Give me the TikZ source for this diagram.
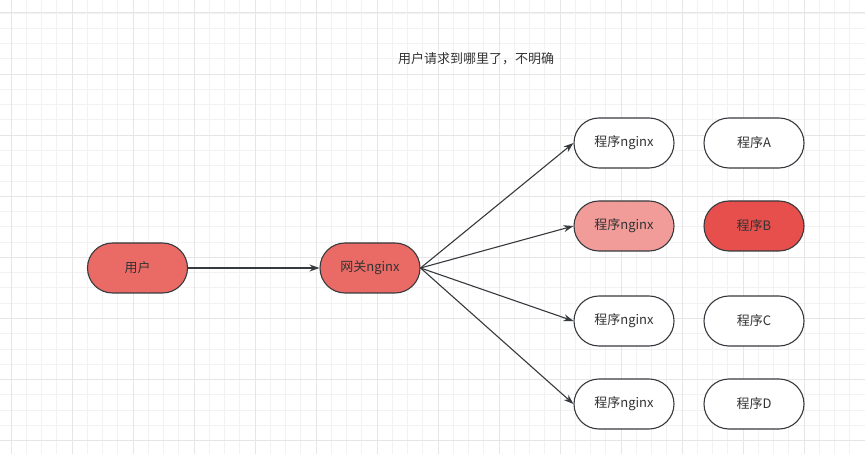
\documentclass[tikz,border=0pt]{standalone}
\usepackage{fontspec}
\setmainfont{Noto Sans CJK SC}
\usetikzlibrary{arrows.meta}
\definecolor{gridminor}{HTML}{F2F2F2}
\definecolor{gridmajor}{HTML}{E6E6E6}
\definecolor{boxline}{HTML}{36393D}
\definecolor{txt}{HTML}{333333}
\definecolor{redmid}{HTML}{EA6B66}
\definecolor{redlight}{HTML}{F19C99}
\definecolor{reddark}{HTML}{E64F4C}
\tikzstyle{every node}=[text=txt,font=\fontsize{13}{15}\selectfont]
\tikzstyle{pill}=[draw=boxline,line width=1.1pt,rounded corners=25pt,
  minimum width=100pt,minimum height=50pt,inner sep=0pt,fill=white]
\tikzstyle{link}=[draw=boxline,line width=1.1pt,-{Stealth[length=10pt,width=7pt]}]

\begin{document}
\begin{tikzpicture}[x=1pt,y=-1pt]
  \useasboundingbox (0,0) rectangle (865,454);
  % grid
  \foreach \i in {0,...,56}
    \draw[gridminor,line width=0.8pt] ({11+15.25*\i},0) -- ({11+15.25*\i},454);
  \foreach \j in {0,...,28}
    \draw[gridminor,line width=0.8pt] (0,{13+15.27*\j}) -- (865,{13+15.27*\j});
  \foreach \i in {0,...,14}
    \draw[gridmajor,line width=1pt] ({11+61*\i},0) -- ({11+61*\i},454);
  \foreach \j in {0,...,7}
    \draw[gridmajor,line width=1pt] (0,{13+61.08*\j}) -- (865,{13+61.08*\j});

  \node (title) at (476,59) {用户请求到哪里了，不明确};

  \node[pill,fill=redmid] (user) at (137.5,268) {用户};
  \node[pill,fill=redmid] (gate) at (370,268) {网关nginx};

  \node[pill] (ng1) at (624,143) {程序nginx};
  \node[pill,fill=redlight] (ng2) at (624,226) {程序nginx};
  \node[pill] (ng3) at (624,321) {程序nginx};
  \node[pill] (ng4) at (624,404) {程序nginx};

  \node[pill] (progA) at (754,143) {程序A};
  \node[pill,fill=reddark] (progB) at (754,226) {程序B};
  \node[pill] (progC) at (754,321) {程序C};
  \node[pill] (progD) at (754,404) {程序D};

  \draw[link] (user.east) -- (gate.west);
  \foreach \n in {ng1,ng2,ng3,ng4}
    \draw[link] (gate.east) -- (\n.west);
\end{tikzpicture}
\end{document}
